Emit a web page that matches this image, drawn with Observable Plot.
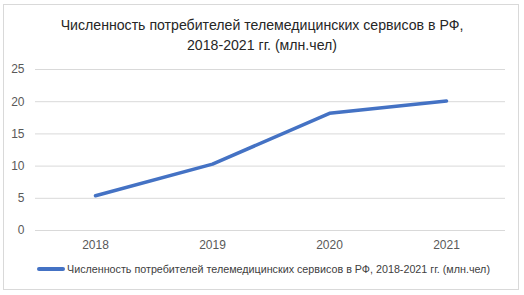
<!DOCTYPE html>
<html>
<head>
<meta charset="utf-8">
<script src="https://cdn.jsdelivr.net/npm/d3@7"></script>
<script src="https://cdn.jsdelivr.net/npm/@observablehq/plot@0.6"></script>
<style>
  body { margin: 0; background: #fff; font-family: "Liberation Sans", Arial, sans-serif; }
  #root { position: relative; width: 524px; height: 295px; overflow: hidden; }
  #frame { position: absolute; left: 3px; top: 4px; width: 514px; height: 284px; border: 1px solid #d9d9d9; }
  #title { position: absolute; left: 0; width: 524px; top: 15px; text-align: center; font-size: 14px; line-height: 20px; color: #262626; white-space: nowrap; }
  #chart { position: absolute; left: 0; top: 60px; }
  #legend { position: absolute; left: 37px; top: 261px; height: 16px; display: flex; align-items: center; font-size: 11px; color: #404040; white-space: nowrap; }
  #legend .sw { width: 28px; height: 3.5px; background: #4472C4; border-radius: 2px; margin-right: 2px; }
</style>
</head>
<body>
<div id="root">
  <div id="frame"></div>
  <div id="title"></div>
  <div id="chart"></div>
  <div id="legend"><span class="sw"></span><span id="legtext"></span></div>
</div>
<script>
const titleLines = ["Численность потребителей телемедицинских сервисов в РФ,", "2018-2021 гг. (млн.чел)"];
const seriesName = "Численность потребителей телемедицинских сервисов в РФ, 2018-2021 гг. (млн.чел)";
const years = ["2018", "2019", "2020", "2021"];
const values = [5.4, 10.3, 18.2, 20.1];
const yTicks = [0, 5, 10, 15, 20, 25];

document.getElementById("title").innerHTML = titleLines.join("<br>");
document.getElementById("legtext").textContent = seriesName;

// fit font sizes to the reference's text widths
function fitSize(text, targetWidth, family) {
  const ctx = document.createElement("canvas").getContext("2d");
  ctx.font = `100px ${family}`;
  return 100 * targetWidth / ctx.measureText(text).width;
}
const fam = '"Liberation Sans", Arial, sans-serif';
document.getElementById("title").style.fontSize = fitSize(titleLines[0], 403, fam).toFixed(2) + "px";
document.getElementById("legend").style.fontSize = fitSize(seriesName, 423, fam).toFixed(2) + "px";

const data = years.map((y, i) => ({year: y, value: values[i]}));

const chart = Plot.plot({
  width: 524,
  height: 200,
  marginLeft: 35,
  marginRight: 19,
  marginTop: 9,
  marginBottom: 30,
  style: {fontFamily: "Liberation Sans, Arial, sans-serif", fontSize: "12px", color: "#595959", background: "transparent"},
  x: {type: "point", domain: years, padding: 0.5, label: null},
  y: {domain: [0, 25], ticks: yTicks, label: null},
  marks: [
    Plot.ruleY(yTicks, {stroke: "#d9d9d9", strokeWidth: 1}),
    Plot.axisY({ticks: yTicks, tickSize: 0, tickPadding: 11, label: null, fill: "#595959"}),
    Plot.axisX({tickSize: 0, tickPadding: 10, label: null, fill: "#595959"}),
    Plot.line(data, {x: "year", y: "value", stroke: "#4472C4", strokeWidth: 3.5, strokeLinecap: "round", strokeLinejoin: "round"})
  ]
});
document.getElementById("chart").appendChild(chart);
</script>
</body>
</html>
